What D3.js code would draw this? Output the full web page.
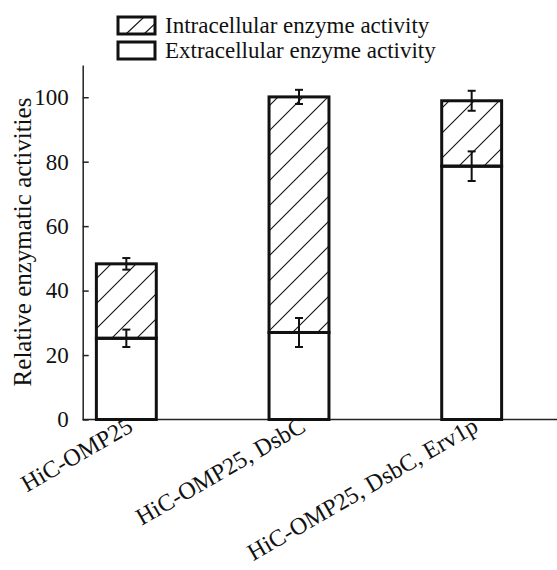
<!DOCTYPE html>
<html>
<head>
<meta charset="utf-8">
<script src="https://cdn.jsdelivr.net/npm/d3@7/dist/d3.min.js"></script>
<style>
  html, body { margin: 0; padding: 0; background: #fff; }
  svg text { font-family: "Liberation Serif", "Times New Roman", serif !important; fill: #111; }
</style>
</head>
<body>
<svg id="chart" width="557" height="570"></svg>
<script>
// ---- data ----
const categories = ["HiC-OMP25", "HiC-OMP25, DsbC", "HiC-OMP25, DsbC, Erv1p"];
const extracellular = [25.2, 27.0, 78.6];
const extracellularErr = [2.7, 4.5, 4.6];
const intracellular = [23.1, 73.1, 20.3];
const totalErr = [1.8, 2.2, 3.1];
const yTicks = [0, 20, 40, 60, 80, 100];

const serif = '"Liberation Serif", "Times New Roman", serif';
const svg = d3.select("#chart");

const x = d3.scaleBand()
  .domain(categories)
  .range([40, 558])
  .paddingInner(0.653)
  .paddingOuter(0.3265);

const y = d3.scaleLinear()
  .domain([0, 110])
  .range([419.5, 65]);

const rows = categories.map((c, i) => ({
  cat: c,
  ext: extracellular[i],
  intra: intracellular[i],
  extErr: extracellularErr[i],
  totErr: totalErr[i]
}));

// hatch pattern
const defs = svg.append("defs");
const pat = defs.append("pattern")
  .attr("id", "hatch")
  .attr("patternUnits", "userSpaceOnUse")
  .attr("width", 25)
  .attr("height", 25);
pat.append("path")
  .attr("d", "M0,25 L25,0 M-5,5 L5,-5 M20,30 L30,20")
  .attr("stroke", "#111")
  .attr("stroke-width", 1.1);

// axes
const axisX0 = 82.7;
svg.append("line")
  .attr("x1", axisX0).attr("x2", 557)
  .attr("y1", y(0)).attr("y2", y(0))
  .attr("stroke", "#222").attr("stroke-width", 1.5);

const yAxis = d3.axisLeft(y)
  .tickValues(yTicks)
  .tickSizeInner(-6)
  .tickSizeOuter(0)
  .tickPadding(14);

const gy = svg.append("g")
  .attr("transform", `translate(${axisX0},0)`)
  .call(yAxis);
gy.attr("font-family", serif).attr("font-size", null);
gy.select(".domain").attr("stroke", "#222").attr("stroke-width", 1.5);
gy.selectAll(".tick line").attr("stroke", "#222").attr("stroke-width", 1.5);
gy.selectAll(".tick text")
  .style("font-family", serif)
  .style("font-size", "23px")
  .attr("fill", "#111");

svg.append("text")
  .attr("transform", `translate(31,242) rotate(-90)`)
  .attr("text-anchor", "middle")
  .style("font-family", serif)
  .style("font-size", "25px")
  .text("Relative enzymatic activities");

// bars
const bars = svg.append("g");
bars.selectAll(".ext")
  .data(rows)
  .enter()
  .append("rect")
  .attr("x", d => x(d.cat))
  .attr("width", x.bandwidth())
  .attr("y", d => y(d.ext))
  .attr("height", d => y(0) - y(d.ext))
  .attr("fill", "#fff")
  .attr("stroke", "#111")
  .attr("stroke-width", 3);

bars.selectAll(".intra")
  .data(rows)
  .enter()
  .append("rect")
  .attr("x", d => x(d.cat))
  .attr("width", x.bandwidth())
  .attr("y", d => y(d.ext + d.intra))
  .attr("height", d => y(d.ext) - y(d.ext + d.intra))
  .attr("fill", "url(#hatch)")
  .attr("stroke", "#111")
  .attr("stroke-width", 3);

// error bars
function errBar(g, cx, v, e) {
  const cap = 4;
  g.append("line").attr("x1", cx).attr("x2", cx).attr("y1", y(v - e)).attr("y2", y(v + e));
  g.append("line").attr("x1", cx - cap).attr("x2", cx + cap).attr("y1", y(v + e)).attr("y2", y(v + e));
  g.append("line").attr("x1", cx - cap).attr("x2", cx + cap).attr("y1", y(v - e)).attr("y2", y(v - e));
}
const errs = svg.append("g").attr("stroke", "#111").attr("stroke-width", 2);
rows.forEach(d => {
  const cx = x(d.cat) + x.bandwidth() / 2;
  errBar(errs, cx, d.ext, d.extErr);
  errBar(errs, cx, d.ext + d.intra, d.totErr);
});

// category labels
svg.append("g").selectAll("text")
  .data(categories)
  .enter()
  .append("text")
  .attr("text-anchor", "end")
  .attr("transform", d => `translate(${x(d) + x.bandwidth() / 2 + 8},${y(0) + 11}) rotate(-30)`)
  .style("font-family", serif)
  .style("font-size", "24px")
  .text(d => d);

// legend
const legend = svg.append("g");
const legendItems = [
  { label: "Intracellular enzyme activity", fill: "url(#legendHatch)" },
  { label: "Extracellular enzyme activity", fill: "#fff" }
];
const lp = defs.append("pattern")
  .attr("id", "legendHatch")
  .attr("patternUnits", "userSpaceOnUse")
  .attr("x", 118).attr("y", 17)
  .attr("width", 38).attr("height", 40);
lp.append("path")
  .attr("d", "M8,17 L26,0 M26,17 L44,0")
  .attr("stroke", "#111").attr("stroke-width", 1.1);

legendItems.forEach((it, i) => {
  const gy0 = 17 + i * 25;
  legend.append("rect")
    .attr("x", 118).attr("y", gy0)
    .attr("width", 37).attr("height", 17)
    .attr("fill", it.fill)
    .attr("stroke", "#111")
    .attr("stroke-width", 3);
  legend.append("text")
    .attr("x", 165).attr("y", gy0 + 16)
    .style("font-family", serif)
    .style("font-size", "23px")
    .text(it.label);
});
</script>
</body>
</html>
